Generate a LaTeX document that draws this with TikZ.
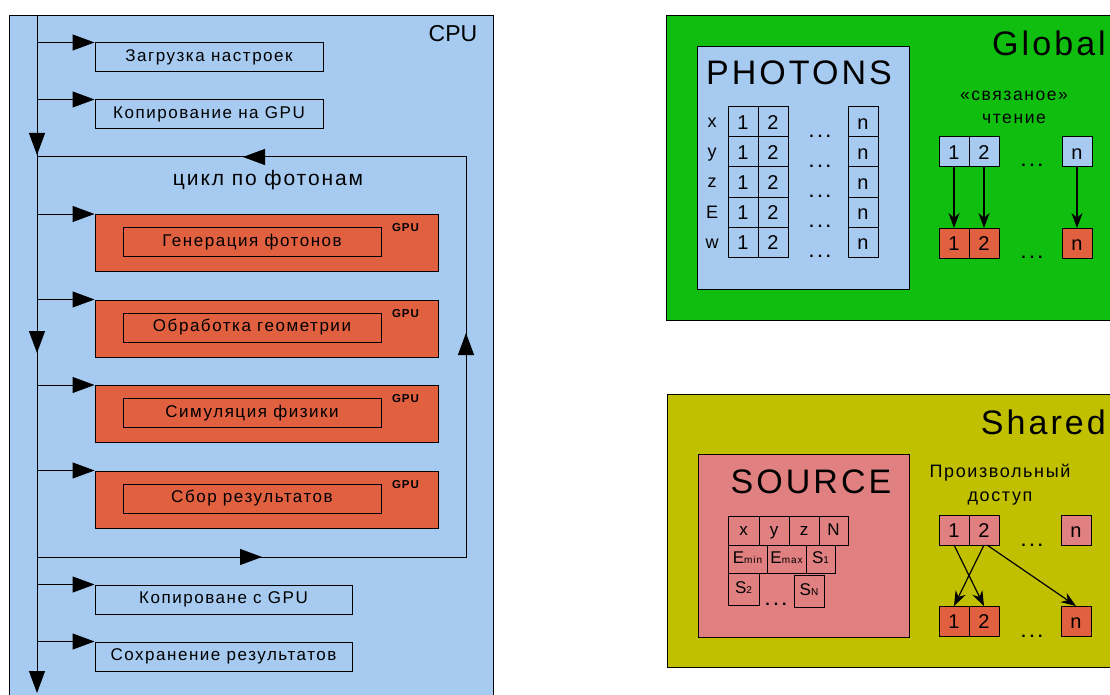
\documentclass[tikz,border=0pt]{standalone}
\usepackage{fontspec}
\setmainfont{Liberation Sans}
\newfontfamily\spaced[LetterSpace=9]{Liberation Sans}
\usetikzlibrary{arrows.meta, decorations.markings, positioning}

\definecolor{cpu-blue}{RGB}{166,202,240}
\definecolor{gpu-orange}{RGB}{224,96,64}
\definecolor{global-green}{RGB}{16,190,16}
\definecolor{shared-olive}{RGB}{192,192,0}
\definecolor{source-pink}{RGB}{224,128,128}

\tikzstyle{frame} = [rectangle, draw=black, line width=1.3pt, anchor=north west, inner sep=0pt]
\tikzstyle{cpu-step} = [rectangle, draw=black, line width=1pt, minimum height=29pt, inner sep=0pt, font=\spaced\fontsize{17}{19}\selectfont]
\tikzstyle{gpu-step} = [rectangle, draw=black, fill=gpu-orange, line width=1pt, minimum width=343pt, minimum height=57pt]
\tikzstyle{gpu-inner} = [rectangle, draw=black, line width=1pt, minimum width=258pt, minimum height=29pt, inner sep=0pt, font=\spaced\fontsize{17}{19}\selectfont]
\tikzstyle{gpu-tag} = [inner sep=0pt, font=\spaced\bfseries\fontsize{11.5}{13}\selectfont]
\tikzstyle{title} = [inner sep=0pt, font=\spaced\fontsize{34}{38}\selectfont]
\tikzstyle{cell} = [rectangle, draw=black, line width=1pt, minimum width=30pt, minimum height=30pt, inner sep=0pt, outer sep=0pt, text height=14.5pt, text depth=0pt, font=\fontsize{20}{22}\selectfont]
\tikzstyle{src-cell} = [cell, minimum height=29pt, text height=12pt, text depth=3pt, font=\spaced\fontsize{17}{19}\selectfont]
\tikzstyle{note} = [inner sep=0pt, align=center, font=\spaced\fontsize{17.5}{23}\selectfont]
\tikzstyle{dot-row} = [inner sep=0pt, font=\bfseries\fontsize{16}{16}\selectfont]
\tikzstyle{branch-arrow} = [line width=1pt, -{Triangle[length=22pt,width=16pt]}]
\tikzstyle{arrow} = [line width=1.2pt, -{Stealth[length=15pt,width=11pt]}]
\newcommand{\threedots}{.\kern4pt.\kern4pt.}
\newcommand{\lowtext}[1]{{\fontsize{10}{10}\selectfont #1}}

\begin{document}
\begin{tikzpicture}[x=1pt, y=-1pt, >={Triangle[length=22pt,width=16pt]}]
\path[use as bounding box, fill=white] (0,0) rectangle (1110,695);

% CPU side
\node (cpu) [frame, fill=cpu-blue, minimum width=484pt, minimum height=700pt] at (9,15) {};
\node [inner sep=0pt, font=\fontsize{23}{26}\selectfont] at (453,34) {CPU};

\node (load) [cpu-step, minimum width=228pt] at (209,57.5) {Загрузка настроек};
\node (copy-to) [cpu-step, minimum width=228pt] at (209,114.5) {Копирование на GPU};
\node [note, font=\spaced\fontsize{21}{24}\selectfont] at (268,180) {цикл по фотонам};
\node (copy-back) [cpu-step, minimum width=257pt] at (223.5,599.5) {Копироване с GPU};
\node (save) [cpu-step, minimum width=257pt] at (223.5,656.5) {Сохранение результатов};

\coordinate (trunk-top) at (37,15);
\coordinate (trunk-end) at (37,693);
\coordinate (loop-in) at (37,557);
\coordinate (loop-br) at (466,557);
\coordinate (loop-tr) at (466,157);
\coordinate (loop-out) at (37,157);

\draw [branch-arrow, postaction={decorate}, decoration={markings,
    mark=at position 140pt with {\arrow{>}},
    mark=at position 338pt with {\arrow{>}}}] (trunk-top) -- (trunk-end);
\draw [line width=1pt, postaction={decorate}, decoration={markings,
    mark=at position 225pt with {\arrow{>}},
    mark=at position 653pt with {\arrow{>}},
    mark=at position 1052pt with {\arrow{>}}}] (loop-in) -- (loop-br) -- (loop-tr) -- (loop-out);

% GPU kernels inside the loop
\foreach \boxid/\ypos/\stepname in {gen/243/Генерация фотонов, geom/328.5/Обработка геометрии, sim/414/Симуляция физики, collect/499.5/Сбор результатов} {
  \node (\boxid) [gpu-step] at (266.5,\ypos) {};
  \node (\boxid-in) [gpu-inner] at ([xshift=-14.5pt,yshift=1pt]\boxid.center) {\stepname};
  \node [gpu-tag] at ([xshift=-33pt,yshift=-14pt]\boxid.north east) {GPU};
  \draw [branch-arrow] (trunk-top |- \boxid.north west) -- (\boxid.north west);
}

\draw [branch-arrow] (trunk-top |- load.north west) -- (load.north west);
\draw [branch-arrow] (trunk-top |- copy-to.north west) -- (copy-to.north west);
\draw [branch-arrow] (trunk-top |- copy-back.north west) -- (copy-back.north west);
\draw [branch-arrow] (trunk-top |- save.north west) -- (save.north west);

% Global memory
\node (global) [frame, fill=global-green, minimum width=450pt, minimum height=305pt] at (666,15) {};
\node [title, anchor=east] at (1106,43) {Global};
\node (photons) [frame, line width=1pt, fill=cpu-blue, minimum width=212pt, minimum height=243pt] at (697,46) {};
\node [title] at (799,73) {PHOTONS};

\foreach \var [count=\i from 0] in {x,y,z,E,w} {
  \node (ph-a-\i) [cell] at (743,122+30*\i) {1};
  \node (ph-b-\i) [cell, right=0pt of ph-a-\i] {2};
  \node (ph-n-\i) [cell] at (863,122+30*\i) {n};
  \node [inner sep=0pt, anchor=base, font=\fontsize{18}{20}\selectfont] at (712,128+30*\i) {\var};
  \node [dot-row] at (820,136+30*\i) {\threedots};
}

\node [note] at (1014,107) {«связаное»\\чтение};
\node (g-a) [cell, fill=cpu-blue] at (954,152) {1};
\node (g-b) [cell, fill=cpu-blue, right=0pt of g-a] {2};
\node (g-n) [cell, fill=cpu-blue] at (1077,152) {n};
\node [dot-row] at (1032,165) {\threedots};
\node (g-a2) [cell, fill=gpu-orange] at (954,243) {1};
\node (g-b2) [cell, fill=gpu-orange, right=0pt of g-a2] {2};
\node (g-n2) [cell, fill=gpu-orange] at (1077,243) {n};
\node [dot-row] at (1032,257) {\threedots};

\draw [arrow] (g-a.south) -- (g-a2.north);
\draw [arrow] (g-b.south) -- (g-b2.north);
\draw [arrow] (g-n.south) -- (g-n2.north);

% Shared memory
\node (shared) [frame, fill=shared-olive, minimum width=450pt, minimum height=273pt] at (667,394) {};
\node [title, anchor=east] at (1106,422) {Shared};
\node (source) [frame, line width=1pt, fill=source-pink, minimum width=211pt, minimum height=183pt] at (698,454) {};
\node [title] at (811,482) {SOURCE};

\node (src-x) [src-cell, minimum width=31pt, anchor=north west] at (728,516) {x};
\node (src-y) [src-cell, right=0pt of src-x] {y};
\node (src-z) [src-cell, right=0pt of src-y] {z};
\node (src-n) [src-cell, minimum width=29pt, right=0pt of src-z] {N};
\node (src-emin) [src-cell, minimum width=39pt, minimum height=28pt, below=0pt of src-x.south west, anchor=north west] {E\lowtext{min}};
\node (src-emax) [src-cell, minimum width=39pt, minimum height=28pt, right=0pt of src-emin] {E\lowtext{max}};
\node (src-s1) [src-cell, minimum width=29pt, minimum height=28pt, right=0pt of src-emax] {S\lowtext{1}};
\node (src-s2) [src-cell, minimum width=31pt, minimum height=32pt, below=0pt of src-emin.south west, anchor=north west] {S\lowtext{2}};
\node (src-sn) [src-cell, minimum height=32pt, anchor=north west] at (794,575) {S\lowtext{N}};
\node [dot-row] at (776,604) {\threedots};

\node [note, font=\spaced\fontsize{18}{24}\selectfont] at (1000,485) {Произвольный\\доступ};
\node (s-a) [cell, fill=source-pink] at (954,530) {1};
\node (s-b) [cell, fill=source-pink, right=0pt of s-a] {2};
\node (s-n) [cell, fill=source-pink] at (1076,530) {n};
\node [dot-row] at (1032,545) {\threedots};
\node (s-a2) [cell, fill=gpu-orange] at (954,621) {1};
\node (s-b2) [cell, fill=gpu-orange, right=0pt of s-a2] {2};
\node (s-n2) [cell, fill=gpu-orange] at (1076,621) {n};
\node [dot-row] at (1032,636) {\threedots};

\draw [arrow] (s-a.south) -- (s-b2.north);
\draw [arrow] (s-b.south) -- (s-a2.north);
\draw [arrow] ([xshift=3pt]s-b.south) -- (s-n2.north);

\end{tikzpicture}
\end{document}
